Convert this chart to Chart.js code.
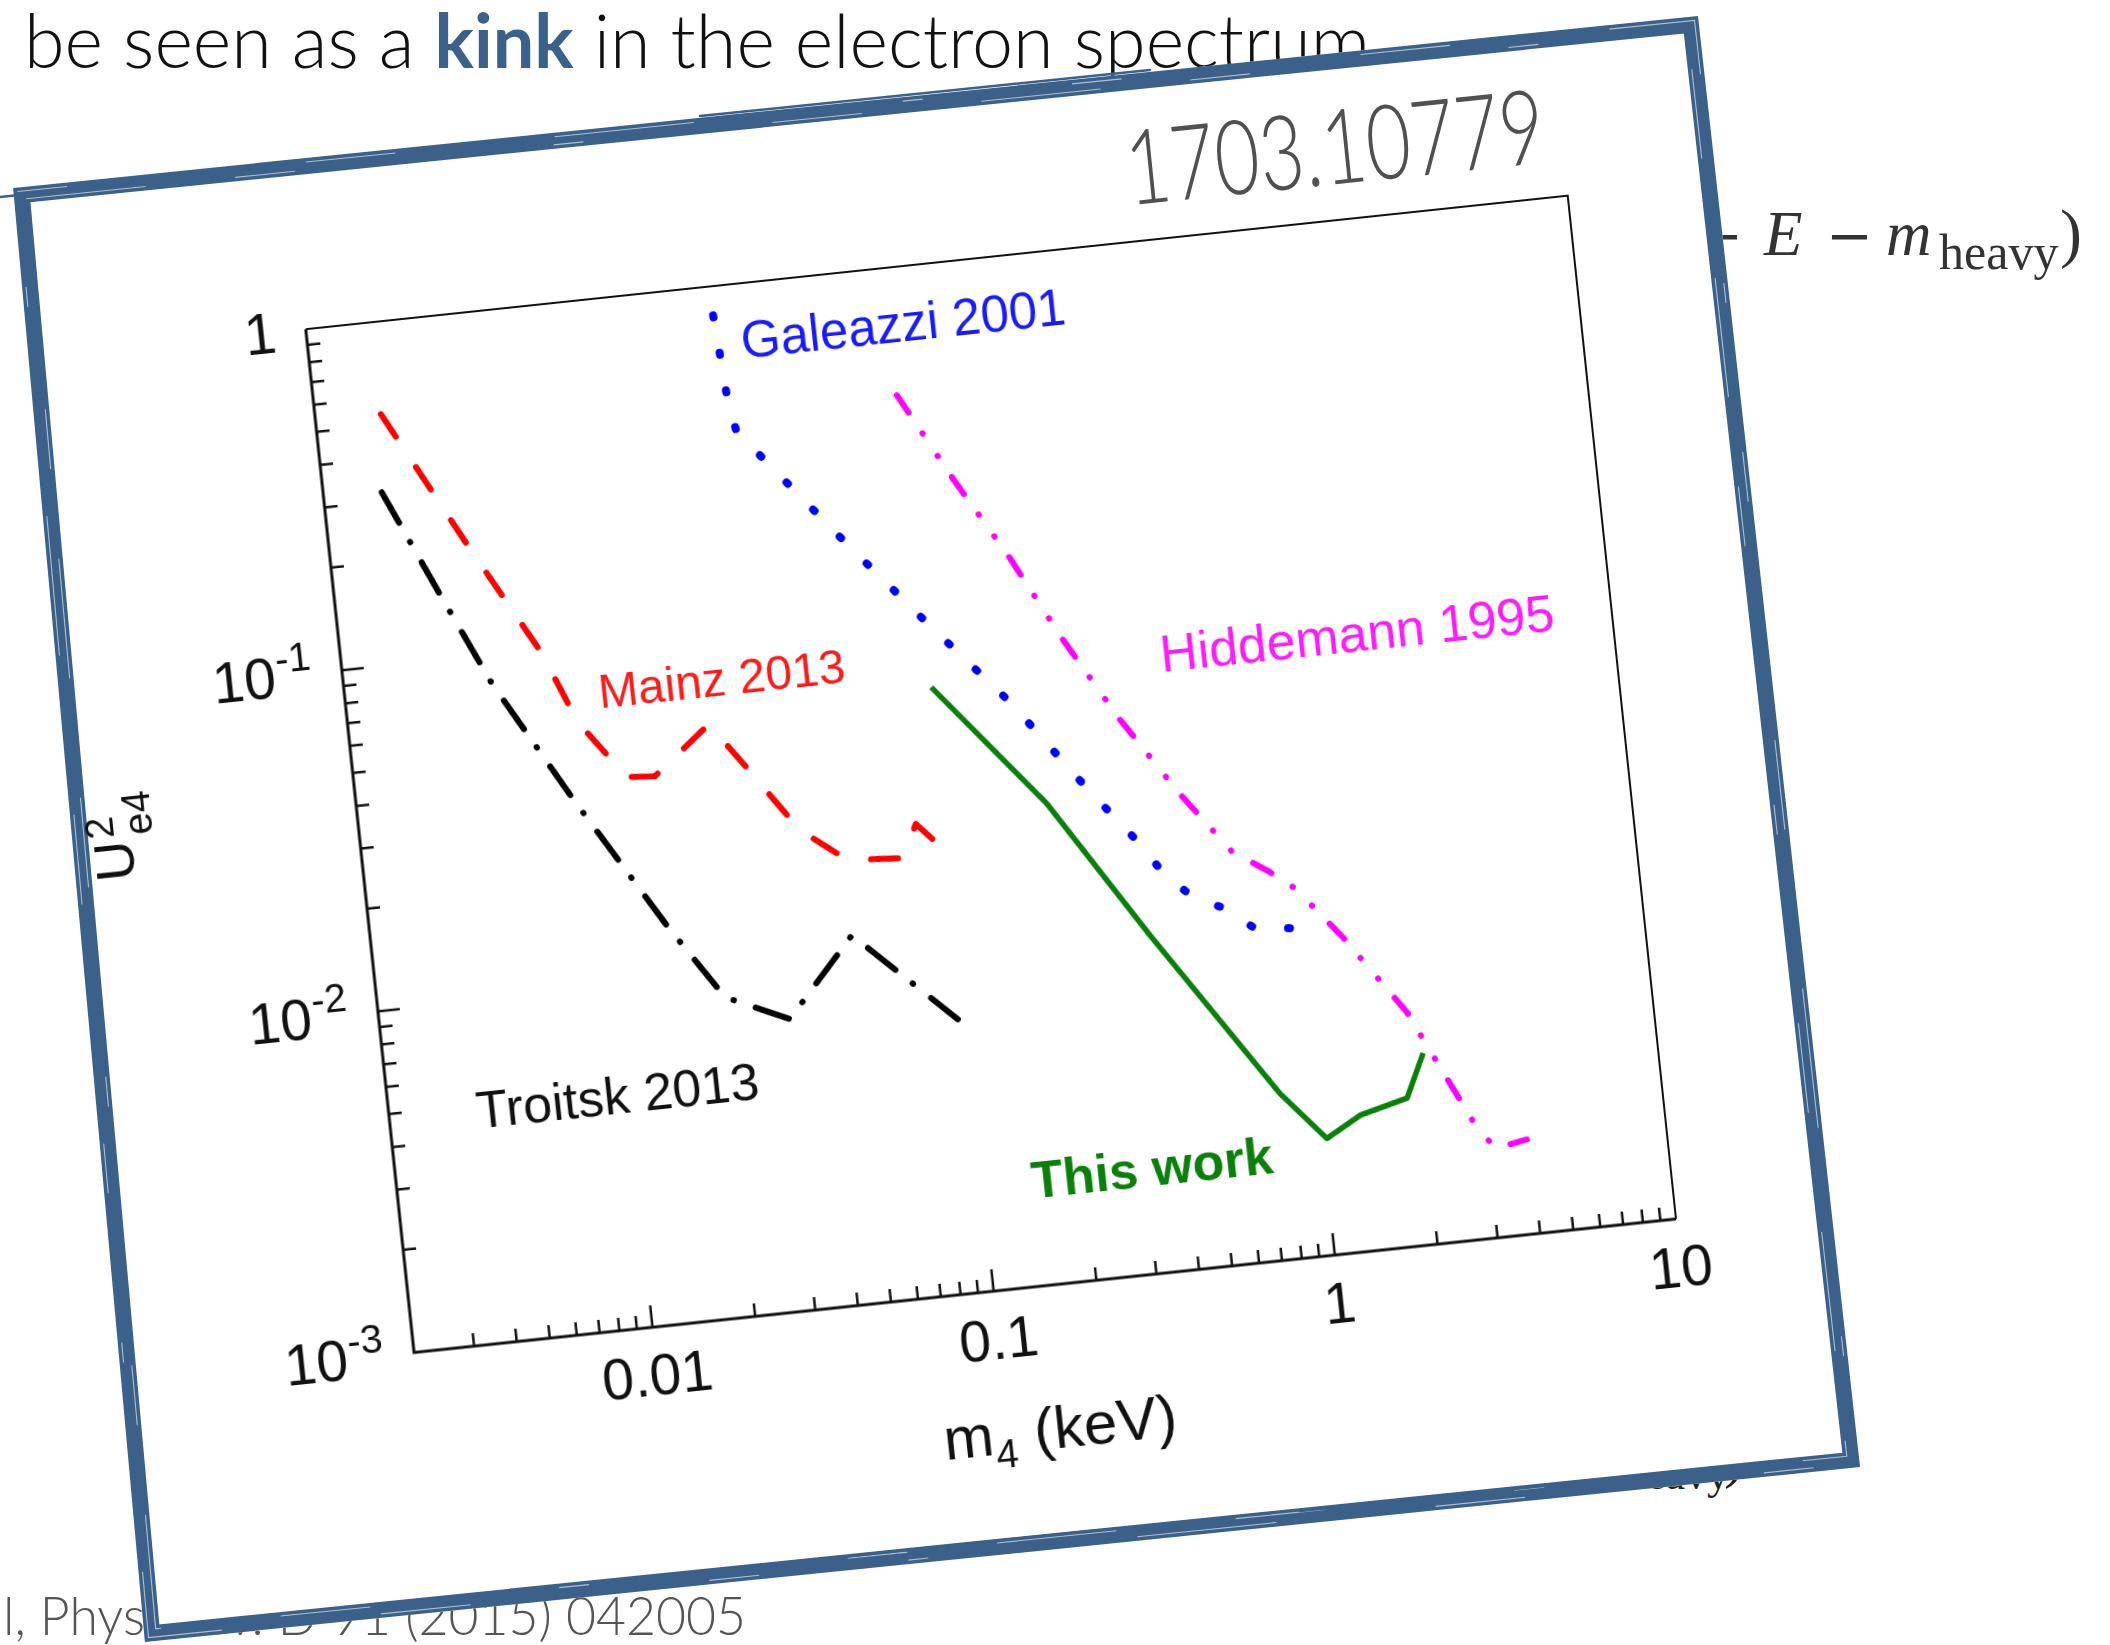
<!DOCTYPE html>
<html>
<head>
<meta charset="utf-8">
<title>Sterile neutrino limits</title>
<script src="https://cdn.jsdelivr.net/npm/chart.js@4.4.1/dist/chart.umd.min.js"></script>
<style>
  html, body { margin: 0; padding: 0; background: #fff; }
  body { width: 2110px; height: 1645px; position: relative; overflow: hidden; }
  #slide { position: absolute; left: 0; top: 0; }
  /* plot sits on the tilted card, rotated about its own top-left corner */
  #plotWrap {
    position: absolute; left: 21.24px; top: 298.79px;
    width: 1609px; height: 1289px;
    transform-origin: 0 0; transform: rotate(-6.04deg);
  }
  #plotWrap canvas { display: block; }
</style>
</head>
<body>

<svg id="slide" width="2110" height="1645" xmlns="http://www.w3.org/2000/svg">
  <!-- slide text underneath the card -->
  <text x="24" y="68" font-family="Lato, 'Open Sans', sans-serif" font-weight="300" font-size="74" fill="#111"
        textLength="1346" lengthAdjust="spacingAndGlyphs">be seen as a <tspan font-weight="700" fill="#3b6089">kink</tspan> in the electron spectrum</text>

  <text y="255" font-family="'Liberation Serif', 'DejaVu Serif', serif" font-size="63" fill="#333">
    <tspan x="1696" font-family="'DejaVu Serif', serif" font-size="56">−</tspan><tspan x="1764" font-style="italic">E</tspan><tspan x="1826" font-family="'DejaVu Serif', serif" font-size="56">−</tspan><tspan x="1886" font-style="italic">m</tspan><tspan x="1939" dy="14" font-size="50">heavy</tspan><tspan x="2060" dy="-14" font-size="66">)</tspan>
  </text>

  <text y="1476" font-family="'Liberation Serif', 'DejaVu Serif', serif" font-size="62" fill="#222">
    <tspan x="1578" font-style="italic">m</tspan><tspan x="1624" dy="13" font-size="44">heavy</tspan><tspan x="1724" dy="-13">)</tspan>
  </text>

  <text x="3" y="1635" text-anchor="end" font-family="Lato, 'Open Sans', sans-serif" font-weight="300" font-size="53" fill="#555">S. Mertens et a</text>
  <text x="3" y="1635" font-family="Lato, 'Open Sans', sans-serif" font-weight="300" font-size="53" fill="#555"
        textLength="743" lengthAdjust="spacingAndGlyphs">l, Phys. Rev. D 91 (2015) 042005</text>

  <!-- the tilted card with its brushed border -->
  <polygon points="13,188 1698,16 1860,1467 145,1642" fill="#fff"/>
  <polygon points="21.8,195.1 1690.9,24.8 1851.2,1459.9 152.1,1633.2" fill="none"
           stroke="#3b6089" stroke-width="16" stroke-linejoin="miter"/>
  <g fill="none" stroke="#fff" stroke-width="1.1" stroke-opacity="0.6">
    <polygon points="26.2,198.7 1687.3,29.2 1846.8,1456.3 155.7,1628.8" stroke-dasharray="120 90 60 260 30 190 90 120"/>
    <polygon points="17.4,191.5 1694.5,20.4 1855.6,1463.5 148.5,1637.6" stroke-dasharray="50 240 90 160 140 210 20 150"/>
  </g>
  <g stroke="#3b6089" fill="none" stroke-width="2.5" stroke-linecap="round">
    <path d="M 0 197 L 260 170"/>
    <path d="M 700 116 L 1150 70"/>
    <path d="M 600 1582 L 1100 1530"/>
    <path d="M 1300 1511 L 1700 1470"/>
  </g>

  <g transform="translate(13 188) rotate(-5.85)">
    <text x="1109" y="131" font-family="Lato, 'Open Sans', sans-serif" font-weight="300" font-size="104" fill="#505050"
          textLength="420" lengthAdjust="spacingAndGlyphs">1703.10779</text>
  </g>
</svg>

<div id="plotWrap"><canvas id="limitsChart" width="1609" height="1289"></canvas></div>

<script>
// m4 in keV, |U_e4|^2 upper limits
const troitskM = [0.00296, 0.00406, 0.00539, 0.00849, 0.0146, 0.0205, 0.0311, 0.0499, 0.0954];
const troitskU = [0.319, 0.155, 0.0825, 0.0364, 0.0145, 0.0086, 0.0071, 0.0119, 0.0063];

const mainzM = [0.00311, 0.00512, 0.00769, 0.00931, 0.01242, 0.01499, 0.02229, 0.02836, 0.03797, 0.05121, 0.07408, 0.08275, 0.09171];
const mainzU = [0.538, 0.206, 0.0973, 0.0599, 0.0401, 0.0395, 0.0538, 0.0382, 0.0249, 0.0197, 0.0192, 0.0239, 0.0213];

const galeazziM = [0.0294, 0.0308, 0.0318, 0.0330, 0.0386, 0.0629, 0.103, 0.170, 0.267, 0.368, 0.421, 0.499, 0.605, 0.730, 0.934];
const galeazziU = [1.30, 0.769, 0.456, 0.371, 0.306, 0.165, 0.0905, 0.0501, 0.0267, 0.0176, 0.0142, 0.0121, 0.0110, 0.00946, 0.00915];

const hiddemannM = [0.0987, 0.135, 0.187, 0.250, 0.344, 0.487, 0.669, 0.850, 0.993, 1.32, 1.92, 2.33, 2.87, 3.18, 3.91];
const hiddemannU = [0.424, 0.234, 0.132, 0.0745, 0.0423, 0.0246, 0.0159, 0.0135, 0.0119, 0.0083, 0.00481, 0.00318, 0.00205, 0.00182, 0.00189];

const thisWorkM = [0.101, 0.201, 0.365, 0.777, 1.03, 1.31, 1.81, 2.08];
const thisWorkU = [0.0589, 0.0250, 0.00964, 0.00306, 0.00219, 0.00250, 0.00271, 0.00362];

// axis decades and their labels
const xTicks = [0.01, 0.1, 1, 10];
const xTickLabels = ['0.01', '0.1', '1', '10'];
const yTicks = [1, 0.1, 0.01, 0.001];
const yTickLabels = ['1', '10^-1', '10^-2', '10^-3'];

const pairs = (xs, ys) => xs.map((v, i) => ({ x: v, y: ys[i] }));
const FONT = '"Liberation Sans", Arial, Helvetica, sans-serif';

// curve names written inside the plot, anchored in data units
const curveNames = [
    { text: 'Galeazzi 2001', x: 0.0362, y: 0.605, color: '#1a1aff', size: 51 },
    { text: 'Mainz 2013', x: 0.0109, y: 0.0647, color: '#ff1a1a', size: 48 },
    { text: 'Hiddemann 1995', x: 0.476, y: 0.0553, color: '#ff1aff', size: 52 },
    { text: 'Troitsk 2013', x: 0.00359, y: 0.00427, color: '#111', size: 52 },
    { text: 'This work', x: 0.139, y: 0.00181, color: '#0a800a', size: 52, bold: true }
];

// boxed frame with inward ticks, tick labels and axis titles
const boxAxes = {
    id: 'boxAxes',
    beforeDatasetsDraw(chart) {
        const { ctx, chartArea: a, scales: { x, y } } = chart;
        ctx.save();
        ctx.strokeStyle = '#111';
        ctx.lineCap = 'butt';

        ctx.lineWidth = 2;
        ctx.beginPath();
        ctx.moveTo(a.left, a.top);
        ctx.lineTo(a.right, a.top);
        ctx.lineTo(a.right, a.bottom);
        ctx.stroke();

        ctx.lineWidth = 3;
        ctx.beginPath();
        ctx.moveTo(a.left, a.top);
        ctx.lineTo(a.left, a.bottom);
        ctx.lineTo(a.right, a.bottom);
        ctx.stroke();

        ctx.lineWidth = 2.5;
        ctx.beginPath();
        for (let d = -3; d <= 0; d++) {
            for (let k = 1; k <= 9; k++) {
                const v = k * Math.pow(10, d);
                if (v <= x.min * 1.0001 || v >= x.max * 0.9999) continue;
                const px = x.getPixelForValue(v);
                ctx.moveTo(px, a.bottom);
                ctx.lineTo(px, a.bottom - (k === 1 ? 22 : 13));
            }
        }
        for (let d = -3; d <= -1; d++) {
            for (let k = 1; k <= 9; k++) {
                const v = k * Math.pow(10, d);
                if (v <= y.min * 1.0001 || v >= y.max * 0.9999) continue;
                const py = y.getPixelForValue(v);
                ctx.moveTo(a.left, py);
                ctx.lineTo(a.left + (k === 1 ? 22 : 13), py);
            }
        }
        ctx.stroke();

        ctx.fillStyle = '#111';
        ctx.textBaseline = 'alphabetic';
        ctx.font = '57px ' + FONT;
        ctx.textAlign = 'center';
        xTicks.forEach((v, i) => {
            ctx.fillText(xTickLabels[i], x.getPixelForValue(v), a.bottom + 68);
        });

        const right = a.left - 30;
        yTicks.forEach((v, i) => {
            const py = y.getPixelForValue(v);
            const [base, exp] = yTickLabels[i].split('^');
            ctx.textAlign = 'right';
            if (exp) {
                ctx.font = '40px ' + FONT;
                ctx.fillText(exp, right, py - 4);
                const ew = ctx.measureText(exp).width;
                ctx.font = '57px ' + FONT;
                ctx.fillText(base, right - ew - 1, py + 20);
            } else {
                ctx.font = '57px ' + FONT;
                ctx.fillText(base, right, py + 20);
            }
        });

        // m_4 (keV)
        ctx.textAlign = 'left';
        ctx.font = '60px ' + FONT;
        const wm = ctx.measureText('m').width;
        const wk = ctx.measureText(' (keV)').width;
        ctx.font = '40px ' + FONT;
        const w4 = ctx.measureText('4').width;
        const base = a.bottom + 163;
        const sx = (a.left + a.right) / 2 - (wm + w4 + wk + 2) / 2;
        ctx.font = '60px ' + FONT;
        ctx.fillText('m', sx, base);
        ctx.font = '40px ' + FONT;
        ctx.fillText('4', sx + wm + 1, base + 14);
        ctx.font = '60px ' + FONT;
        ctx.fillText(' (keV)', sx + wm + w4 + 2, base);

        // U^2_e4, reading upwards
        ctx.save();
        ctx.translate(a.left - 227, a.top + 529);
        ctx.rotate(-Math.PI / 2);
        ctx.font = '56px ' + FONT;
        ctx.fillText('U', 0, 0);
        const uw = ctx.measureText('U').width;
        ctx.font = '40px ' + FONT;
        ctx.fillText('2', uw + 3, -17);
        ctx.fillText('e4', uw + 3, 22);
        ctx.restore();

        ctx.restore();
    },
    afterDatasetsDraw(chart) {
        const { ctx, scales: { x, y } } = chart;
        ctx.save();
        ctx.textAlign = 'left';
        ctx.textBaseline = 'alphabetic';
        curveNames.forEach(n => {
            ctx.font = (n.bold ? 'bold ' : '') + n.size + 'px ' + FONT;
            ctx.fillStyle = n.color;
            ctx.fillText(n.text, x.getPixelForValue(n.x), y.getPixelForValue(n.y));
        });
        ctx.restore();
    }
};

const lineStyle = {
    fill: false,
    tension: 0,
    pointRadius: 0,
    borderCapStyle: 'round',
    borderJoinStyle: 'round'
};

new Chart(document.getElementById('limitsChart'), {
    type: 'line',
    data: {
        datasets: [
            { ...lineStyle, label: 'Troitsk 2013', data: pairs(troitskM, troitskU),
              borderColor: '#000', borderWidth: 6, borderDash: [35, 22, 0.5, 23] },
            { ...lineStyle, label: 'Mainz 2013', data: pairs(mainzM, mainzU),
              borderColor: '#ff0000', borderWidth: 6, borderDash: [27, 36.5] },
            // traced from the high-mass end so the dot pattern lands on the last point
            { ...lineStyle, label: 'Galeazzi 2001', data: pairs(galeazziM, galeazziU).reverse(), clip: 0,
              borderColor: '#0000ff', borderWidth: 8, borderDash: [2, 36] },
            { ...lineStyle, label: 'Hiddemann 1995', data: pairs(hiddemannM, hiddemannU),
              borderColor: '#ff00ff', borderWidth: 6, borderDash: [21, 25, 0.5, 26.5, 0.5, 25] },
            { ...lineStyle, label: 'This work', data: pairs(thisWorkM, thisWorkU),
              borderColor: '#0a800a', borderWidth: 5.5, borderCapStyle: 'butt' }
        ]
    },
    options: {
        responsive: false,
        animation: false,
        devicePixelRatio: 1,
        layout: { padding: { left: 280, top: 60, right: 60, bottom: 200 } },
        plugins: {
            legend: { display: false },
            tooltip: { enabled: false }
        },
        scales: {
            x: { type: 'logarithmic', min: 0.002, max: 10, display: false },
            y: { type: 'logarithmic', min: 0.001, max: 1, display: false }
        }
    },
    plugins: [boxAxes]
});
</script>
</body>
</html>
